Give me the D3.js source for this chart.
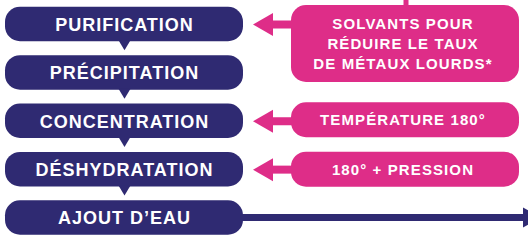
<!DOCTYPE html>
<html>
<head>
<meta charset="utf-8">
<script src="https://cdn.jsdelivr.net/npm/d3@7"></script>
<style>
  html, body { margin: 0; padding: 0; background: #ffffff; }
  svg { display: block; }
  text { font-family: "Liberation Sans", Arial, Helvetica, sans-serif; font-weight: bold; fill: #ffffff; }
</style>
</head>
<body>
<svg id="chart" width="528" height="240"></svg>
<script>
// Process steps (top to bottom)
const steps = ["PURIFICATION", "PRÉCIPITATION", "CONCENTRATION", "DÉSHYDRATATION", "AJOUT D’EAU"];
// Inputs (pink boxes), their text lines and the step they feed into
const inputLines = [
  ["SOLVANTS POUR", "RÉDUIRE LE TAUX", "DE MÉTAUX LOURDS*"],
  ["TEMPÉRATURE 180°"],
  ["180° + PRESSION"]
];
const inputTargets = ["PURIFICATION", "CONCENTRATION", "DÉSHYDRATATION"];

const NAVY = "#2f2a72";
const PINK = "#de2d88";

const svg = d3.select("#chart");
const W = 528, H = 240;

const y = d3.scalePoint().domain(steps).range([24, 217.5]);
const boxH = 34.5;
const boxX0 = 5, boxX1 = 243;

// Step boxes
const g = svg.append("g");
steps.forEach((s, i) => {
  const cy = y(s);
  g.append("rect")
    .attr("x", boxX0).attr("y", cy - boxH / 2)
    .attr("width", boxX1 - boxX0).attr("height", boxH)
    .attr("rx", 15).attr("ry", 15)
    .attr("fill", NAVY);
  if (i < steps.length - 1) {
    const cx = (boxX0 + boxX1) / 2 + 0.5;
    const yb = cy + boxH / 2 - 1;
    g.append("path")
      .attr("d", `M${cx - 6},${yb} L${cx + 6},${yb} L${cx},${yb + 10} Z`)
      .attr("fill", NAVY);
  }
  g.append("text")
    .attr("x", (boxX0 + boxX1) / 2 + 0.5)
    .attr("y", cy + 6.8)
    .attr("text-anchor", "middle")
    .attr("font-size", 18)
    .attr("letter-spacing", "1px")
    .text(s);
});

// Final output arrow
const yLast = y(steps[steps.length - 1]);
svg.append("rect")
  .attr("x", boxX1 - 2).attr("y", yLast - 3.5)
  .attr("width", 524 - boxX1 + 2).attr("height", 7)
  .attr("fill", NAVY);
svg.append("path")
  .attr("d", `M523,${yLast - 10} L542,${yLast} L523,${yLast + 10} Z`)
  .attr("fill", NAVY);

// Input boxes
const pX0 = 291, pX1 = 519;
const pinkBoxes = [
  { top: y(inputTargets[0]) - 19, h: 77 },
  { top: y(inputTargets[1]) - 18.5, h: 35 },
  { top: y(inputTargets[2]) - 17.5, h: 35 }
];
const lineGap = 19.7;
inputLines.forEach((lines, k) => {
  const b = pinkBoxes[k];
  const ay = y(inputTargets[k]) + 0.5;
  // arrow to the step
  svg.append("rect")
    .attr("x", 271).attr("y", ay - 4)
    .attr("width", pX0 - 271 + 2).attr("height", 8)
    .attr("fill", PINK);
  svg.append("path")
    .attr("d", `M273,${ay - 11.5} L253,${ay} L273,${ay + 11.5} Z`)
    .attr("fill", PINK);
  svg.append("rect")
    .attr("x", pX0).attr("y", b.top)
    .attr("width", pX1 - pX0).attr("height", b.h)
    .attr("rx", 15).attr("ry", 15)
    .attr("fill", PINK);
  const cyBox = b.top + b.h / 2;
  const firstBase = cyBox - (lines.length - 1) * lineGap / 2 + 5.5;
  lines.forEach((ln, j) => {
    svg.append("text")
      .attr("x", (pX0 + pX1) / 2 - 2)
      .attr("y", firstBase + j * lineGap)
      .attr("text-anchor", "middle")
      .attr("font-size", 15)
      .attr("letter-spacing", "1.1px")
      .text(ln);
  });
});
// line entering the first input box from above
svg.append("rect")
  .attr("x", 403.5).attr("y", 0)
  .attr("width", 5).attr("height", pinkBoxes[0].top + 2)
  .attr("fill", PINK);
</script>
</body>
</html>
